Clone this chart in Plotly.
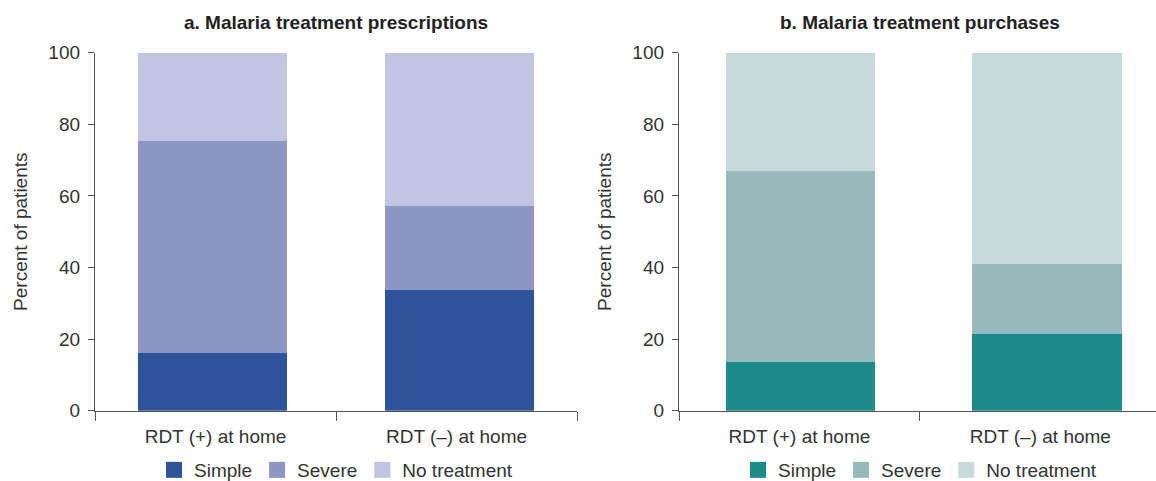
import plotly.graph_objects as go

categories = ["RDT (+) at home", "RDT (\u2013) at home"]
series_names = ["Simple", "Severe", "No treatment"]

presc_simple = [16.0, 33.6]
presc_severe = [59.3, 23.5]
presc_none = [24.7, 42.9]

purch_simple = [13.7, 21.3]
purch_severe = [53.2, 19.6]
purch_none = [33.1, 59.1]

y_ticks = [0, 20, 40, 60, 80, 100]

colors_a = ["#2E549C", "#8E96C5", "#C1C5E1"]
colors_b = ["#1E8A8B", "#97B9BC", "#C7D9D9"]

W, H = 1156, 481
FONT = "Liberation Sans, Arial, sans-serif"
AXC = "#555555"
TXT = "#333333"
BW = 0.62
offs_a = [-BW / 2 - 0.0124, -BW / 2 + 0.0124]
offs_b = [-BW / 2 + 0.004, -BW / 2 + 0.028]

fig = go.Figure()
for name, vals, col in zip(series_names, [presc_simple, presc_severe, presc_none], colors_a):
    fig.add_trace(go.Bar(x=categories, y=vals, name=name, marker=dict(color=col, line=dict(width=0)),
                         width=BW, offset=offs_a, xaxis="x", yaxis="y", showlegend=False))
for name, vals, col in zip(series_names, [purch_simple, purch_severe, purch_none], colors_b):
    fig.add_trace(go.Bar(x=categories, y=vals, name=name, marker=dict(color=col, line=dict(width=0)),
                         width=BW, offset=offs_b, xaxis="x2", yaxis="y2", showlegend=False))

# legend keys (square swatches)
for name, col in zip(series_names, colors_a):
    fig.add_trace(go.Scatter(x=[None], y=[None], mode="markers", name=name,
                             marker=dict(symbol="square", size=17, color=col),
                             xaxis="x", yaxis="y", legend="legend"))
for name, col in zip(series_names, colors_b):
    fig.add_trace(go.Scatter(x=[None], y=[None], mode="markers", name=name,
                             marker=dict(symbol="square", size=17, color=col),
                             xaxis="x2", yaxis="y2", legend="legend2"))

ydom = [(H - 410.7) / H, (H - 52.7) / H]

def yax(anchor):
    return dict(domain=ydom, range=[0, 100], tickvals=y_ticks, ticks="outside", ticklen=6,
                tickcolor=AXC, showline=True, linecolor=AXC, linewidth=1.3, showgrid=False,
                zeroline=False, anchor=anchor, tickfont=dict(family=FONT, size=19, color=TXT),
                ticklabelstandoff=4,
                title=dict(text="Percent of patients", font=dict(family=FONT, size=19, color=TXT),
                           standoff=15))

def xax(dom, rng, anchor):
    return dict(domain=dom, type="category", range=rng, tickson="boundaries", ticks="outside",
                ticklen=9, tickcolor=AXC, showline=True, linecolor=AXC, linewidth=1.3,
                showgrid=False, zeroline=False, anchor=anchor,
                tickfont=dict(family=FONT, size=19, color=TXT), ticklabelstandoff=8)

leg_common = dict(orientation="h", yanchor="middle", xanchor="center", traceorder="normal",
                  font=dict(family=FONT, size=19, color=TXT), bgcolor="rgba(0,0,0,0)",
                  itemsizing="trace", itemwidth=30, tracegroupgap=0)

fig.update_layout(
    width=W, height=H,
    margin=dict(l=0, r=0, t=0, b=0, autoexpand=False),
    paper_bgcolor="white", plot_bgcolor="white",
    barmode="stack", bargap=0.38,
    xaxis=xax([95 / W, 577 / W], [-0.5, 1.5], "y"),
    yaxis=yax("x"),
    xaxis2=xax([679 / W, 1.0], [-0.5, 1.48], "y2"),
    yaxis2=yax("x2"),
    legend=dict(x=336 / W, y=(H - 470) / H, **leg_common),
    legend2=dict(x=920 / W, y=(H - 470) / H, **leg_common),
    annotations=[
        dict(text="<b>a. Malaria treatment prescriptions</b>", x=336 / W, y=(H - 22) / H,
             xref="paper", yref="paper", showarrow=False, xanchor="center", yanchor="middle",
             font=dict(family=FONT, size=19, color="#222222")),
        dict(text="<b>b. Malaria treatment purchases</b>", x=920 / W, y=(H - 22) / H,
             xref="paper", yref="paper", showarrow=False, xanchor="center", yanchor="middle",
             font=dict(family=FONT, size=19, color="#222222")),
    ],
    showlegend=True,
)

fig.write_html(
    "out.html",
    config={"displayModeBar": False},
    post_script="document.body.style.margin='0px';document.body.style.overflow='hidden';",
)
